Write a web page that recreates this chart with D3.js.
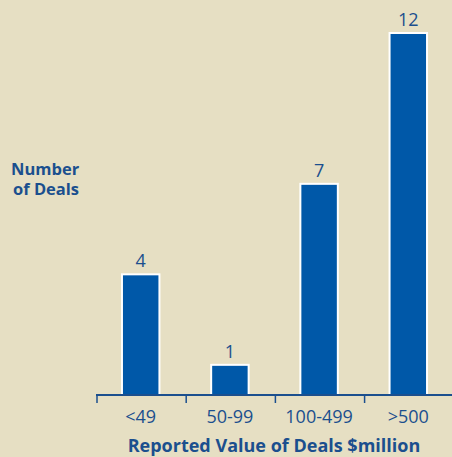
<!DOCTYPE html>
<html><head><meta charset="utf-8">
<script src="https://cdn.jsdelivr.net/npm/d3@7"></script>
<style>html,body{margin:0;padding:0;background:#e6dfc3;}svg{display:block;}</style>
</head><body>
<script>
const categories = ["<49", "50-99", "100-499", ">500"];
const values = [4, 1, 7, 12];
const xTitle = "Reported Value of Deals $million";
const yTitle = ["Number", "of Deals"];

const W = 452, H = 457;
const textColor = "#1b4f8e", barColor = "#0058a8";
const font = "'Open Sans', sans-serif";
const svg = d3.select("body").append("svg").attr("width", W).attr("height", H)
  .style("background", "#e6dfc3");

const x = d3.scaleBand().domain(categories).range([97, 452]).paddingInner(0.58).paddingOuter(0.28);
const y = d3.scaleLinear().domain([0, 12]).range([395, 33]);
const step = x.step();
const tickX = c => x(c) - x.paddingOuter() * step;

svg.selectAll("rect.bar").data(values).join("rect").attr("class", "bar")
  .attr("x", (d, i) => x(categories[i]))
  .attr("y", d => y(d))
  .attr("width", x.bandwidth())
  .attr("height", d => y(0) - y(d))
  .attr("fill", barColor).attr("stroke", "#ffffff").attr("stroke-width", 2);

svg.selectAll("text.val").data(values).join("text").attr("class", "val")
  .attr("x", (d, i) => x(categories[i]) + x.bandwidth() / 2)
  .attr("y", d => y(d) - 7)
  .attr("text-anchor", "middle").attr("fill", textColor)
  .style("font-family", font).style("font-size", "18px").style("font-weight", 500)
  .text(d => d);

const g = svg.append("g").attr("transform", "translate(0,395)");
g.append("line").attr("x1", 96).attr("x2", W).attr("y1", 0).attr("y2", 0)
  .attr("stroke", textColor).attr("stroke-width", 2);
g.selectAll("line.tick").data(categories).join("line").attr("class", "tick")
  .attr("x1", tickX).attr("x2", tickX)
  .attr("y1", 0).attr("y2", 8).attr("stroke", textColor).attr("stroke-width", 1.5);
g.selectAll("text.cat").data(categories).join("text").attr("class", "cat")
  .attr("x", c => x(c) + x.bandwidth() / 2).attr("y", 28)
  .attr("text-anchor", "middle").attr("fill", textColor)
  .style("font-family", font).style("font-size", "18px").text(c => c);

svg.append("text").attr("x", 274).attr("y", 452).attr("text-anchor", "middle")
  .attr("fill", textColor).style("font-family", font).style("font-size", "18px")
  .style("font-weight", "bold").text(xTitle);

svg.selectAll("text.ytitle").data(yTitle).join("text").attr("class", "ytitle")
  .attr("fill", textColor).style("font-family", font)
  .style("font-size", "16.5px").style("font-weight", "bold")
  .attr("x", (d, i) => i === 0 ? 11 : 13).attr("y", (d, i) => 175 + i * 20).text(d => d);
</script>
</body></html>
